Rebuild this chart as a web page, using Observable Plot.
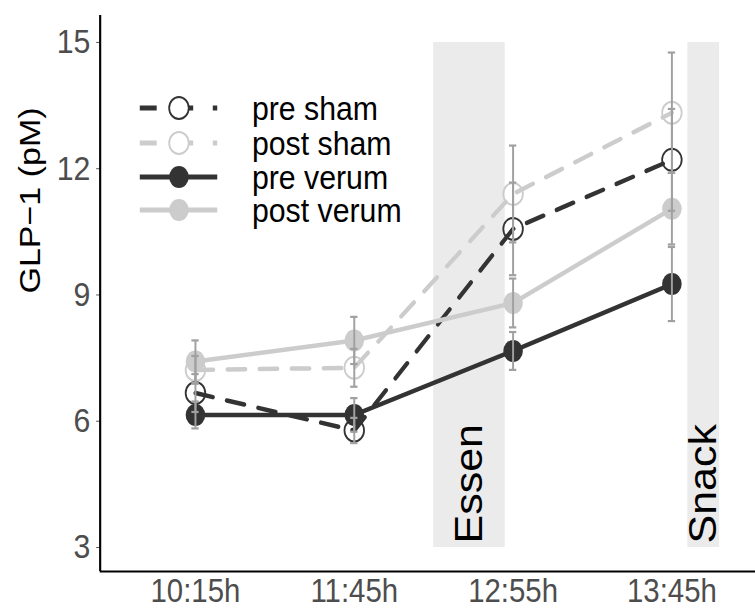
<!DOCTYPE html>
<html>
<head>
<meta charset="utf-8">
<script src="https://cdn.jsdelivr.net/npm/d3@7"></script>
<script src="https://cdn.jsdelivr.net/npm/@observablehq/plot@0.6"></script>
<style>
  body { margin: 0; background: #fff; }
  #chart svg { display: block; }
</style>
</head>
<body>
<div id="chart"></div>
<script>
// ---- data ----
const times = ["10:15h", "11:45h", "12:55h", "13:45h"];
const seriesNames = ["pre sham", "post sham", "pre verum", "post verum"];
const preSham = [6.67, 5.78, 10.57, 12.21];
const preShamErr = [0.45, 0.30, 1.10, 1.21];
const postSham = [7.22, 7.27, 11.40, 13.33];
const postShamErr = [0.33, 0.45, 1.15, 1.43];
const preVerum = [6.15, 6.15, 7.67, 9.26];
const preVerumErr = [0.32, 0.40, 0.45, 0.88];
const postVerum = [7.42, 7.92, 8.81, 11.05];
const postVerumErr = [0.50, 0.56, 0.58, 0.85];
const meals = ["Essen", "Snack"];
const mealStart = [2.5, 4.1];
const mealEnd = [2.95, 4.3];
const yTicks = [3, 6, 9, 12, 15];
const yLabel = "GLP\u22121 (pM)";

// ---- styles ----
const DARK = "#333333", LIGHT = "#cccccc", ERR = "#a0a0a0";
const seriesStyle = {
  "pre sham":   {color: DARK,  dashed: true,  open: true},
  "post sham":  {color: LIGHT, dashed: true,  open: true},
  "pre verum":  {color: DARK,  dashed: false, open: false},
  "post verum": {color: LIGHT, dashed: false, open: false}
};
const values = [preSham, postSham, preVerum, postVerum];
const errors = [preShamErr, postShamErr, preVerumErr, postVerumErr];

const rows = [];
seriesNames.forEach((s, k) => {
  times.forEach((t, i) => {
    rows.push({series: s, x: i + 1, y: values[k][i], lo: values[k][i] - errors[k][i], hi: values[k][i] + errors[k][i]});
  });
});
const mealRows = meals.map((m, i) => ({label: m, x1: mealStart[i], x2: mealEnd[i]}));

const W = 848, H = 608, OUTW = 755;
const yMin = 2.43, yMax = 15.64, xMin = 0.4, xMax = 4.526;
const capHalf = 0.023;
const DASH = "20,16";
const FONT = "'Liberation Sans', Arial, sans-serif";

const lineDrawOrder = ["post sham", "pre sham", "post verum", "pre verum"];
const lineMarks = lineDrawOrder.map(s => Plot.line(rows.filter(d => d.series === s), {
  x: "x", y: "y", stroke: seriesStyle[s].color, strokeWidth: 4.5,
  strokeDasharray: seriesStyle[s].dashed ? DASH : null, curve: "linear"
}));
const dotMarks = lineDrawOrder.map(s => {
  const st = seriesStyle[s];
  const data = rows.filter(d => d.series === s);
  return st.open
    ? Plot.dot(data, {x: "x", y: "y", r: 11, fill: "none", stroke: st.color, strokeWidth: 2})
    : Plot.dot(data, {x: "x", y: "y", r: 11, fill: st.color, stroke: "none"});
});

const plot = Plot.plot({
  width: W, height: H,
  marginLeft: 112, marginRight: 0, marginTop: 15, marginBottom: 37,
  x: {domain: [xMin, xMax]},
  y: {domain: [yMin, yMax]},
  style: {fontFamily: FONT, background: "white", overflow: "hidden"},
  marks: [
    Plot.rect(mealRows, {x1: "x1", x2: "x2", y1: 3, y2: 15, fill: "#ebebeb"}),
    Plot.text(mealRows, {x: d => (d.x1 + d.x2) / 2, y: 3, text: "label", rotate: -90, textAnchor: "start",
      fontSize: 43, fill: "black", dy: -4}),
    ...lineMarks,
    ...dotMarks,
    Plot.ruleX(rows, {x: "x", y1: "lo", y2: "hi", stroke: ERR, strokeWidth: 2.2}),
    Plot.ruleY(rows, {y: "lo", x1: d => d.x - capHalf, x2: d => d.x + capHalf, stroke: ERR, strokeWidth: 2.2}),
    Plot.ruleY(rows, {y: "hi", x1: d => d.x - capHalf, x2: d => d.x + capHalf, stroke: ERR, strokeWidth: 2.2}),
    Plot.axisY({ticks: yTicks, tickFormat: d => String(d), tickSize: 4, tickPadding: 7, fontSize: 34,
      color: "#4d4d4d", label: null}),
    Plot.axisX({ticks: [1, 2, 3, 4], tickFormat: d => times[d - 1], tickSize: 0, tickPadding: 7,
      fontSize: 33, color: "#4d4d4d", label: null}),
    Plot.ruleX([xMin], {stroke: "black", strokeWidth: 2.4}),
    Plot.ruleY([yMin], {stroke: "black", strokeWidth: 2.2}),
    Plot.text([yLabel], {text: d => d, frameAnchor: "left", rotate: -90, dx: -79, fontSize: 34, fill: "black"})
  ]
});

// ---- legend (inside the panel, top-left) ----
const svg = d3.select(plot);
const leg = svg.append("g").attr("font-family", FONT).attr("text-anchor", "start");
const legY = [108, 143, 177, 210];
seriesNames.forEach((s, i) => {
  const st = seriesStyle[s];
  const y = legY[i];
  leg.append("line").attr("x1", 157).attr("x2", 244).attr("y1", y).attr("y2", y)
    .attr("stroke", st.color).attr("stroke-width", 5)
    .attr("stroke-dasharray", st.dashed ? "19,22" : null);
  if (st.open) {
    leg.append("circle").attr("cx", 201).attr("cy", y).attr("r", 11)
      .attr("fill", "white").attr("stroke", st.color).attr("stroke-width", 2);
  } else {
    leg.append("circle").attr("cx", 201).attr("cy", y).attr("r", 11).attr("fill", st.color);
  }
  leg.append("text").attr("x", 283).attr("y", y).attr("dy", "0.36em")
    .attr("text-anchor", "start")
    .attr("font-size", 34).attr("fill", "black").text(s);
});

// horizontal squeeze to match the reference aspect
plot.setAttribute("viewBox", `0 0 ${W} ${H}`);
plot.setAttribute("preserveAspectRatio", "none");
plot.setAttribute("width", OUTW);
plot.setAttribute("height", H);
plot.style.width = OUTW + "px";
plot.style.height = H + "px";
plot.style.maxWidth = "none";
document.getElementById("chart").appendChild(plot);
</script>
</body>
</html>
